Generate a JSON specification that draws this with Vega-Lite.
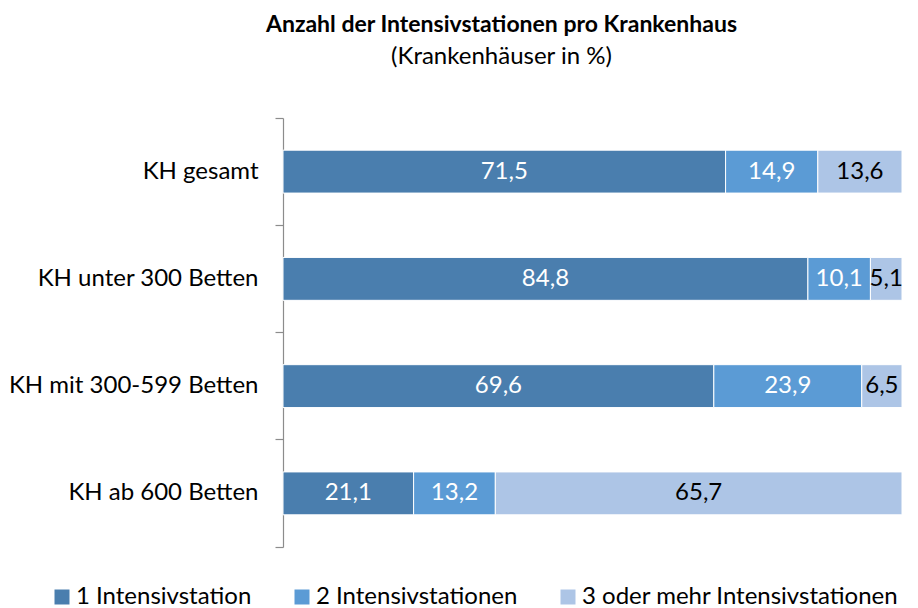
{
  "$schema": "https://vega.github.io/schema/vega-lite/v6.json",
  "width": 619,
  "height": 429,
  "autosize": {"type": "none"},
  "padding": {"left": 283, "top": 118, "right": 16, "bottom": 61},
  "config": {
    "font": "Lato",
    "view": {"stroke": null},
    "locale": {"number": {"decimal": ",", "thousands": ".", "grouping": [3], "currency": ["", " €"]}}
  },
  "title": {
    "text": "Anzahl der Intensivstationen pro Krankenhaus",
    "subtitle": "(Krankenhäuser in %)",
    "fontSize": 23,
    "fontWeight": "bold",
    "color": "#000000",
    "subtitleFontSize": 24,
    "subtitleColor": "#000000",
    "subtitlePadding": 8,
    "anchor": "middle",
    "dx": -91,
    "offset": 37
  },
  "data": {
    "values": [
      {"kh": "KH gesamt", "serie": "1 Intensivstation", "ord": 1, "pct": 71.5},
      {"kh": "KH gesamt", "serie": "2 Intensivstationen", "ord": 2, "pct": 14.9},
      {"kh": "KH gesamt", "serie": "3 oder mehr Intensivstationen", "ord": 3, "pct": 13.6},
      {"kh": "KH unter 300 Betten", "serie": "1 Intensivstation", "ord": 1, "pct": 84.8},
      {"kh": "KH unter 300 Betten", "serie": "2 Intensivstationen", "ord": 2, "pct": 10.1},
      {"kh": "KH unter 300 Betten", "serie": "3 oder mehr Intensivstationen", "ord": 3, "pct": 5.1},
      {"kh": "KH mit 300-599 Betten", "serie": "1 Intensivstation", "ord": 1, "pct": 69.6},
      {"kh": "KH mit 300-599 Betten", "serie": "2 Intensivstationen", "ord": 2, "pct": 23.9},
      {"kh": "KH mit 300-599 Betten", "serie": "3 oder mehr Intensivstationen", "ord": 3, "pct": 6.5},
      {"kh": "KH ab 600 Betten", "serie": "1 Intensivstation", "ord": 1, "pct": 21.1},
      {"kh": "KH ab 600 Betten", "serie": "2 Intensivstationen", "ord": 2, "pct": 13.2},
      {"kh": "KH ab 600 Betten", "serie": "3 oder mehr Intensivstationen", "ord": 3, "pct": 65.7}
    ]
  },
  "encoding": {
    "y": {
      "field": "kh",
      "type": "nominal",
      "sort": null,
      "scale": {"paddingInner": 0, "paddingOuter": 0},
      "axis": {
        "title": null,
        "grid": false,
        "domainColor": "#8c8c8c",
        "domainWidth": 1.2,
        "tickColor": "#8c8c8c",
        "tickWidth": 1.2,
        "tickSize": 8,
        "bandPosition": 1,
        "tickExtra": true,
        "labelFontSize": 24,
        "labelColor": "#000000",
        "labelPadding": 17,
        "labelLimit": 400
      }
    }
  },
  "layer": [
    {
      "mark": {"type": "bar", "height": {"band": 0.4}, "stroke": "#ffffff", "strokeWidth": 1},
      "encoding": {
        "x": {"field": "pct", "type": "quantitative", "stack": "zero", "scale": {"domain": [0, 100]}, "axis": null},
        "color": {
          "field": "serie",
          "type": "nominal",
          "scale": {
            "domain": ["1 Intensivstation", "2 Intensivstationen", "3 oder mehr Intensivstationen"],
            "range": ["#4a7eae", "#5b9bd5", "#adc5e6"]
          },
          "legend": {
            "title": null,
            "orient": "none",
            "legendX": -233,
            "legendY": 467,
            "direction": "horizontal",
            "symbolType": "square",
            "symbolSize": 225,
            "symbolStrokeWidth": 0,
            "symbolOpacity": 1,
            "labelFontSize": 24,
            "labelColor": "#000000",
            "labelOffset": 2,
            "labelLimit": 500,
            "columnPadding": 38
          }
        },
        "order": {"field": "ord"}
      }
    },
    {
      "mark": {"type": "text", "fontSize": 24},
      "encoding": {
        "x": {"field": "pct", "type": "quantitative", "stack": "zero", "bandPosition": 0.5},
        "detail": {"field": "serie"},
        "order": {"field": "ord"},
        "text": {"field": "pct", "type": "quantitative", "format": ".1f"},
        "color": {"condition": {"test": "datum.ord === 3", "value": "#000000"}, "value": "#ffffff"}
      }
    }
  ]
}
